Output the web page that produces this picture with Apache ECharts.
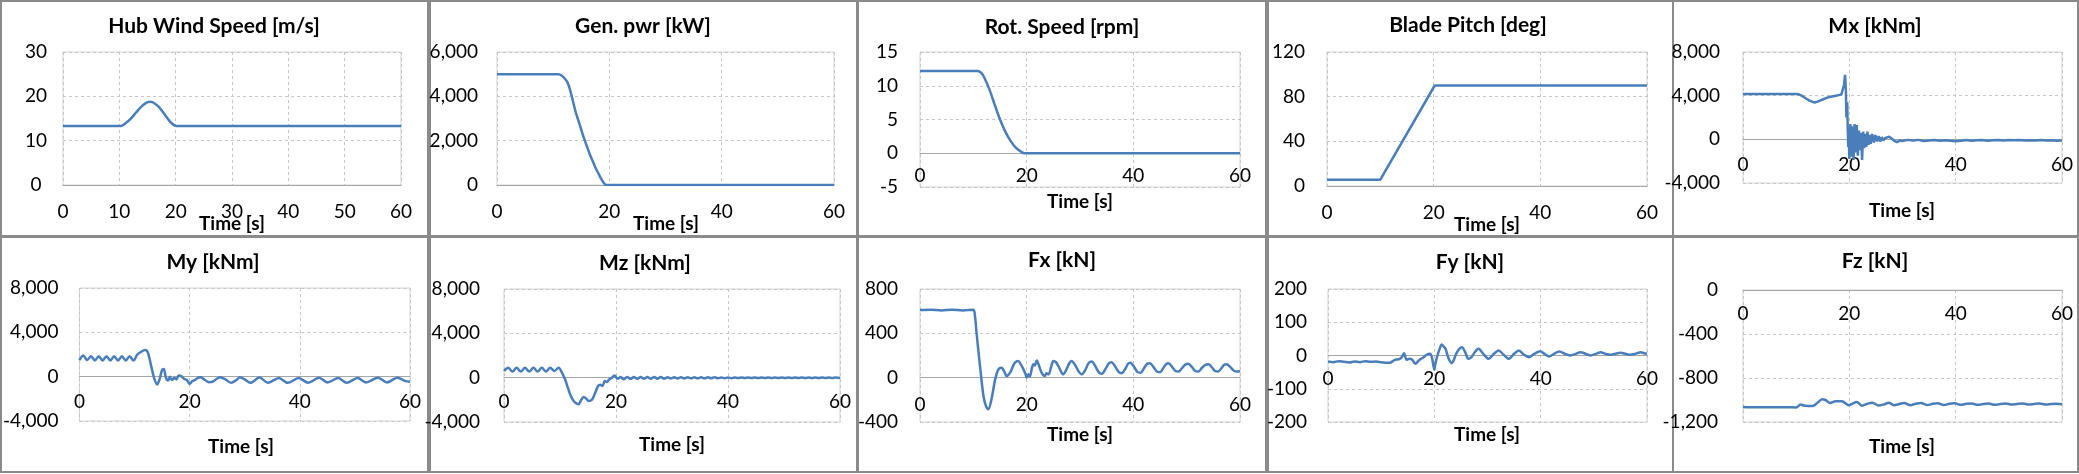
<!DOCTYPE html>
<html><head><meta charset="utf-8">
<script src="https://cdn.jsdelivr.net/npm/echarts@6/dist/echarts.min.js"></script>
<style>html,body{margin:0;padding:0;background:#fff}#c{width:2079px;height:474px}</style>
</head><body><div id="c"></div>
<script>
// ---- data: [time s, value] ----
const hubWind = [[0,13.3],[10,13.3],[10.5,13.4],[11,13.8],[12,14.9],[13,16.4],[14,17.8],[15,18.7],[15.5,18.8],[16,18.6],[17,17.6],[18,16],[19,14.3],[19.7,13.5],[20.2,13.3],[60,13.3]];
const genPower = [[0,5000],[11,5000],[11.7,4900],[12.5,4650],[13,4300],[13.5,3800],[14,3300],[14.5,2900],[15,2500],[15.5,2100],[16,1750],[16.5,1400],[17,1100],[17.5,800],[18,550],[18.5,300],[19,100],[19.4,0],[60,0]];
const rotSpeed = [[0,12.2],[10.8,12.2],[11.5,11.9],[12,11.3],[13,9.5],[14,7.2],[15,5.0],[16,3.2],[17,1.8],[18,0.8],[19,0.2],[19.5,0],[60,0]];
const bladePitch = [[0,5.7],[10,5.7],[20.2,90],[60,90]];
const mx = [[0,4150],[5,4150],[10,4150],[10.5,4120],[11,4000],[11.5,3850],[12,3700],[12.5,3550],[13,3450],[13.5,3380],[14,3450],[14.5,3550],[15,3650],[15.5,3750],[16,3850],[16.5,3900],[17,3950],[17.5,4000],[18,4050],[18.5,4100],[18.8,4200],[19.0,5000],[19.2,5900],[19.35,4500],[19.45,2000],[19.6,3400],[19.7,1000],[19.8,-700],[19.9,500],[20.0,-1800],[20.2,1400],[20.4,-1600],[20.6,1200],[20.8,-1900],[21.0,1400],[21.2,-1200],[21.4,1300],[21.6,-1500],[21.8,800],[22.0,-1000],[22.2,600],[22.4,-1900],[22.6,700],[22.8,-800],[23.0,500],[23.2,-700],[23.4,700],[23.6,-500],[23.8,400],[24.0,-400],[24.3,500],[24.6,-300],[24.9,400],[25.2,-200],[25.5,300],[25.8,-200],[26.1,200],[26.4,-100],[26.7,100],[27,0],[27.5,250],[28,50],[28.5,-150],[29,-250],[29.5,-100],[30,-150],[31,-50],[32,-100],[33,-50],[34,-150],[35,-100],[36,-60],[37,-130],[38,-80],[39,-120],[40,-180],[41,-120],[42,-60],[43,-120],[44,-90],[45,-70],[46,-120],[47,-80],[48,-60],[49,-110],[50,-70],[51,-90],[52,-60],[53,-100],[54,-80],[55,-110],[56,-70],[57,-100],[58,-90],[59,-120],[60,-110]];
const my = [[0,1500],[0.7,1900],[1.4,1500],[2.1,1850],[2.8,1450],[3.5,1850],[4.2,1450],[4.9,1850],[5.6,1450],[6.3,1850],[7.0,1450],[7.7,1850],[8.4,1450],[9.1,1850],[9.8,1450],[10.5,2000],[11.2,2250],[11.9,2400],[12.4,2200],[13.0,1000],[13.6,-200],[14.1,-700],[14.5,-300],[15.0,600],[15.3,700],[15.7,-100],[16.1,-350],[16.4,0],[16.8,-300],[17.2,-100],[17.6,-250],[18.0,100],[18.5,50],[19.0,-200],[19.5,-300],[20.0,-650],[20.5,-400],[21.0,-300],[21.5,-100],[22.0,-50],[22.5,-200],[23.5,-500],[24.2,-450],[25.5,-50],[26.5,-250],[27.5,-550],[28.5,-300],[29.1,-50],[30.0,-250],[31,-550],[32.7,-80],[34.2,-550],[36.2,-120],[37.8,-560],[39.8,-120],[41.5,-550],[43.5,-100],[45.0,-520],[47.0,-130],[48.5,-550],[50.5,-120],[52.0,-520],[54.2,-100],[55.8,-520],[57.7,-100],[59.2,-400],[60,-450]];
const mz = [[0,600],[0.75,900],[1.5,550],[2.25,900],[3.0,550],[3.75,900],[4.5,550],[5.25,900],[6.0,550],[6.75,900],[7.5,550],[8.25,900],[9.0,600],[9.75,900],[10.3,500],[10.9,-150],[11.4,-900],[11.8,-1500],[12.3,-2000],[12.7,-2250],[13.3,-2400],[13.8,-2000],[14.2,-1750],[14.7,-1900],[15.1,-2100],[15.7,-2000],[16.3,-1350],[16.8,-750],[17.2,-650],[17.6,-750],[18.0,-300],[18.4,-400],[18.8,-150],[19.3,0],[19.7,200],[20.3,-100],[20.8,50],[21.4,-150],[22.0,60],[22.6,-120],[23.2,60],[23.8,-100],[24.4,60],[25.0,-100],[25.6,50],[26.2,-100],[26.8,50],[27.4,-90],[28.0,50],[28.6,-90],[29.2,40],[29.8,-80],[30.4,40],[31.0,-70],[31.6,40],[32.2,-70],[32.8,30],[33.4,-60],[34.0,30],[34.6,-60],[35.2,30],[35.8,-60],[36.4,30],[37.0,-50],[37.6,30],[38.2,-50],[38.8,20],[39.4,-50],[40.0,20],[40.6,-50],[41.2,20],[41.8,-40],[42.4,20],[43.0,-40],[43.6,20],[44.2,-40],[44.8,10],[45.4,-40],[46.0,10],[46.6,-40],[47.2,10],[47.8,-30],[48.4,10],[49.0,-30],[49.6,10],[50.2,-30],[50.8,10],[51.4,-30],[52.0,10],[52.6,-30],[53.2,10],[53.8,-30],[54.4,10],[55.0,-30],[55.6,10],[56.2,-30],[56.8,10],[57.4,-30],[58.0,10],[58.6,-30],[59.2,10],[60,-20]];
const fx = [[0,610],[2,613],[4,607],[6,613],[8,607],[10,612],[10.3,560],[10.6,406],[11.25,105],[11.9,-165],[12.4,-260],[12.8,-285],[13.4,-195],[14.1,-15],[14.7,75],[15.3,90],[15.8,55],[16.25,15],[16.9,45],[17.4,100],[17.8,135],[18.4,150],[18.9,120],[19.4,75],[19.8,30],[20.0,0],[20.3,30],[20.6,10],[21.0,90],[21.25,120],[21.5,110],[21.9,155],[22.3,110],[22.8,45],[23.4,15],[23.7,40],[24.1,30],[24.6,100],[25.0,150],[25.5,140],[26.2,80],[26.8,30],[27.3,60],[28.0,130],[28.4,150],[29.0,120],[29.7,60],[30.3,30],[31.0,70],[31.6,130],[32.2,145],[32.8,110],[33.5,50],[34.1,35],[34.8,80],[35.4,130],[35.9,140],[36.6,100],[37.3,50],[37.8,40],[38.5,80],[39.0,125],[39.4,135],[40.1,100],[40.8,50],[41.4,45],[42.0,85],[42.6,125],[43.1,130],[43.8,95],[44.4,55],[45.0,50],[45.6,85],[46.1,120],[46.6,130],[47.3,95],[47.9,60],[48.5,55],[49.1,85],[49.8,120],[50.3,125],[51.0,95],[51.6,60],[52.2,55],[52.8,85],[53.5,115],[54.1,120],[54.7,95],[55.3,60],[55.9,55],[56.5,85],[57.0,115],[57.5,120],[58.2,95],[58.8,65],[59.4,55],[60,60]];
const fy = [[0,-18],[1,-20],[2,-17],[3,-19],[4,-21],[5,-18],[6,-20],[7,-17],[8,-19],[9,-18],[10,-20],[11,-22],[11.6,-22],[12.5,-14],[13.5,-10],[14.0,-2],[14.3,7],[14.8,-13],[15.3,-10],[15.8,-12],[16.4,-25],[16.9,-18],[17.3,-12],[18.0,-5],[18.6,3],[19.2,5],[19.6,-10],[20.0,-43],[20.2,-25],[20.5,-5],[21.0,20],[21.4,33],[21.7,28],[22.1,20],[22.7,-10],[23.3,-23],[23.7,-12],[24.1,5],[24.7,20],[25.2,25],[25.8,10],[26.4,-10],[27.0,-5],[27.6,10],[28.3,20],[29.2,5],[30.2,-10],[31.2,5],[32.1,15],[33.0,3],[34.0,-10],[35.0,5],[35.9,15],[36.8,3],[37.8,-5],[38.8,5],[39.9,13],[40.7,5],[41.6,-3],[42.5,5],[43.5,12],[44.6,5],[45.6,0],[46.6,5],[47.5,10],[48.5,5],[49.4,0],[50.4,5],[51.3,10],[52.2,5],[53.1,2],[54.0,5],[55.0,8],[56.0,5],[56.9,2],[57.8,5],[58.8,10],[59.4,7],[60,5]];
const fz = [[0,-1063],[2,-1066],[4,-1065],[6,-1067],[8,-1066],[10,-1068],[10.8,-1042],[11.7,-1052],[13.0,-1055],[13.9,-1030],[14.9,-994],[15.5,-1000],[16.4,-1027],[17.4,-1012],[18.6,-1012],[19.9,-1048],[20.5,-1036],[21.4,-1018],[22.4,-1052],[23.3,-1036],[24.3,-1024],[25.5,-1050],[26.5,-1040],[27.4,-1026],[28.5,-1048],[29.4,-1036],[30.3,-1028],[31.5,-1048],[32.5,-1034],[33.5,-1028],[34.7,-1046],[35.7,-1034],[36.6,-1030],[37.8,-1046],[38.8,-1034],[39.8,-1030],[41.0,-1044],[42.0,-1034],[43.0,-1032],[44.2,-1044],[45.2,-1036],[46.2,-1032],[47.4,-1044],[48.4,-1036],[49.4,-1032],[50.6,-1042],[51.6,-1036],[52.6,-1032],[53.8,-1042],[54.8,-1036],[55.8,-1032],[57.0,-1042],[58.0,-1036],[59.0,-1033],[60,-1038]];

const titles = ['Hub Wind Speed [m/s]','Gen. pwr [kW]','Rot. Speed [rpm]','Blade Pitch [deg]','Mx [kNm]','My [kNm]','Mz [kNm]','Fx [kN]','Fy [kN]','Fz [kN]'];
const xTitle = 'Time [s]';
const series = [hubWind, genPower, rotSpeed, bladePitch, mx, my, mz, fx, fy, fz];
const yRanges = [[0,30,10],[0,6000,2000],[-5,15,5],[0,120,40],[-4000,8000,4000],[-4000,8000,4000],[-4000,8000,4000],[-400,800,400],[-200,200,100],[-1200,0,400]];
const xIntervals = [10,20,20,20,20,20,20,20,20,20];

// ---- layout ----
const grids = [[63,52,338,133],[497,52,337,133],[920,52,320,135],[1327,52,320,134],[1743,52,319,131],
               [73,288,337,133],[504,289,336,133],[920,289,320,133],[1328,289,319,133],[1743,290,319,132]];
const xMargins = [17,17,13,17,16,16,15,18,14,14];
const yMargins = [27,19,22,22,23,21,24,22,21,25];
const titlePos = [[214,26],[643,26],[1062,27],[1468,25],[1875,26],[213,262],[645,263],[1062,260],[1470,262],[1875,261]];
const xTitlePos = [[232,224],[666,224],[1080,202],[1487,225],[1902,211],[241,447],[672,445],[1080,435],[1487,435],[1902,447]];
const smooth = [0.3,0.2,0.2,false,false,0.3,0.3,0.3,0.3,0.3];
const frames = [[1,1,427,235],[430,1,427,235],[858,1,408,235],[1268,1,405,235],[1673,1,405,235],
                [1,237,427,235],[430,237,427,235],[858,237,408,235],[1268,237,405,235],[1673,237,405,235]];

const FONT = 'Lato, "Open Sans", sans-serif';
const LINE = '#4a7ebb';
const fmt = v => v.toLocaleString('en-US');

const option = {backgroundColor:'#fff', animation:false, grid:[], xAxis:[], yAxis:[], series:[], graphic:[]};
for (let i = 0; i < 10; i++) {
  const g = grids[i];
  const [ymin, ymax, yint] = yRanges[i];
  // the time axis crosses the value axis at zero, as in the original
  const zeroShift = ymin < 0 ? -g[3] * (0 - ymin) / (ymax - ymin) : 0;
  option.grid.push({left:g[0], top:g[1], width:g[2], height:g[3], show:true, borderColor:'#d4d4d4', borderWidth:1, containLabel:false});
  option.xAxis.push({gridIndex:i, type:'value', min:0, max:60, interval:xIntervals[i], position:'bottom', offset:zeroShift,
    axisLine:{onZero:false, lineStyle:{color:'#a6a6a6', width:1}}, axisTick:{show:false},
    axisLabel:{fontFamily:FONT, fontSize:19, color:'#000', margin:xMargins[i]},
    splitLine:{show:true, lineStyle:{type:[3,3], color:'#c6c6c6', width:1}}});
  option.yAxis.push({gridIndex:i, type:'value', min:ymin, max:ymax, interval:yint,
    axisLine:{show:false}, axisTick:{show:false},
    axisLabel:{fontFamily:FONT, fontSize:19, color:'#000', margin:yMargins[i], align: i===0 ? 'center' : 'right', formatter: fmt},
    splitLine:{show:true, lineStyle:{type:[3,3], color:'#c6c6c6', width:1}}});
  option.series.push({type:'line', xAxisIndex:i, yAxisIndex:i, data:series[i], showSymbol:false, symbol:'none',
    smooth:smooth[i], silent:true, lineStyle:{color:LINE, width:2.5}, itemStyle:{color:LINE}, z:3});
  const f = frames[i];
  option.graphic.push({type:'rect', shape:{x:f[0], y:f[1], width:f[2], height:f[3]}, style:{fill:null, stroke:'#8a8a8a', lineWidth:2}, silent:true, z:0});
  option.graphic.push({type:'text', x:titlePos[i][0], y:titlePos[i][1], silent:true,
    style:{text:titles[i], font:'bold 21px ' + FONT, fill:'#000', align:'center', verticalAlign:'middle', textAlign:'center', textVerticalAlign:'middle'}});
  option.graphic.push({type:'text', x:xTitlePos[i][0], y:xTitlePos[i][1], silent:true,
    style:{text:xTitle, font:'bold 19px ' + FONT, fill:'#000', align:'center', verticalAlign:'middle', textAlign:'center', textVerticalAlign:'middle'}});
}
const chart = echarts.init(document.getElementById('c'));
chart.setOption(option);
</script></body></html>
